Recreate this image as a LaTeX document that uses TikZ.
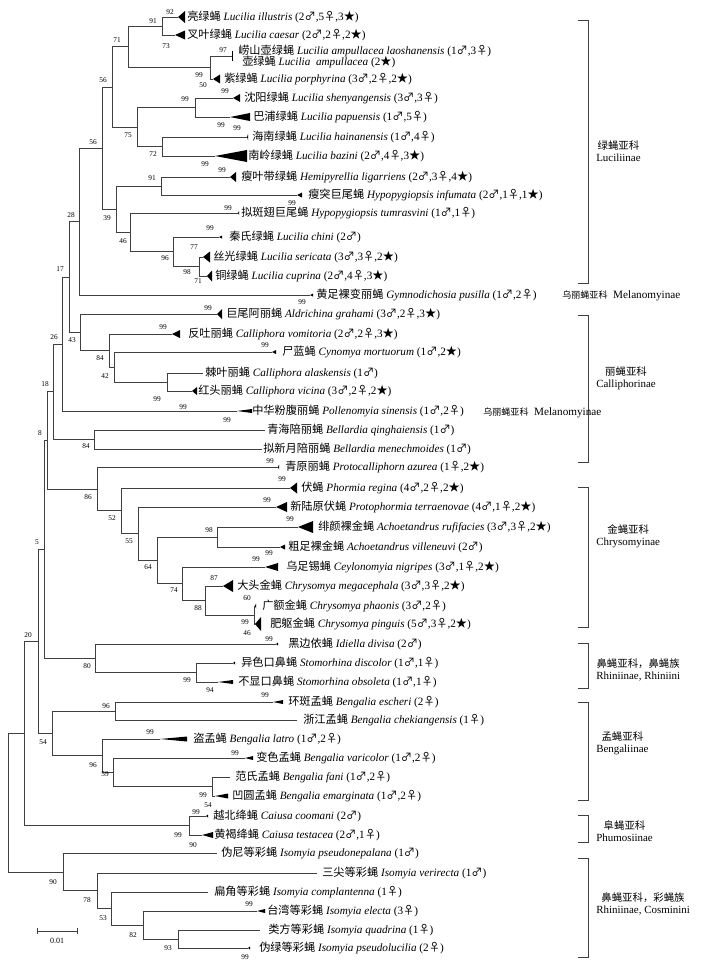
\documentclass[tikz,border=0pt]{standalone}
\usepackage{fontspec}
\setmainfont{Liberation Serif}
\newfontfamily\cjk{Noto Sans CJK SC}
\newcommand{\mal}{{\cjk ♂}}
\newcommand{\fem}{{\cjk ♀}}
\newcommand{\stx}{{\cjk ★}}
\begin{document}
\begin{tikzpicture}
[x=0.75pt,y=-0.75pt,
  branchdecorate/.style={draw=black!75,line width=0.6pt},
  elbowdecorate/.style={branchdecorate,to path={|- (\tikztotarget)}},
  leafdecorate/.style={anchor=west,inner sep=0pt,font=\fontsize{8.4}{9}\selectfont},
  bootdecorate/.style={inner sep=0pt,font=\fontsize{5.5}{6}\selectfont},
  groupdecorate/.style={anchor=west,align=center,inner sep=0pt,font=\fontsize{8.2}{9}\selectfont}]
\useasboundingbox (0,0) rectangle (700,967);
%% leaves: tip, collapsed subtree and name
\foreach \nodename/\y/\tip/\base/\h/\tx/\cn/\lat/\cnt in {
  lil/17/178/185/12/187/亮绿蝇/Lucilia illustris/{(2\mal,5\fem,3\stx)},
  lca/35/175/185/9/187/叉叶绿蝇/Lucilia caesar/{(2\mal,2\fem,2\stx)},
  lpo/79/213/220/9/224/紫绿蝇/Lucilia porphyrina/{(3\mal,2\fem,2\stx)},
  lsh/98/233/240/8/244/沈阳绿蝇/Lucilia shenyangensis/{(3\mal,3\fem)},
  lpa/117/230/250/8/253/巴浦绿蝇/Lucilia papuensis/{(1\mal,5\fem)},
  lha/137/247/248/6/252/海南绿蝇/Lucilia hainanensis/{(1\mal,4\fem)},
  lba/156/215/247/12/248/南岭绿蝇/Lucilia bazini/{(2\mal,4\fem,3\stx)},
  hli/177/230/236/10/241/瘦叶带绿蝇/Hemipyrellia ligarriens/{(2\mal,3\fem,4\stx)},
  hin/195/297/302/5/308/瘦突巨尾蝇/Hypopygiopsis infumata/{(2\mal,1\fem,1\stx)},
  htu/213/238/239/4/241/拟斑翅巨尾蝇/Hypopygiopsis tumrasvini/{(1\mal,1\fem)},
  lch/237/219/222/3/229/秦氏绿蝇/Lucilia chini/{(2\mal)},
  lse/257/203/210/11/213/丝光绿蝇/Lucilia sericata/{(3\mal,3\fem,2\stx)},
  lcu/276/207/212/11/215/铜绿蝇/Lucilia cuprina/{(2\mal,4\fem,3\stx)},
  gpu/295/310/313/3/316/黄足裸变丽蝇/Gymnodichosia pusilla/{(1\mal,2\fem)},
  agr/314/217/222/10/226/巨尾阿丽蝇/Aldrichina grahami/{(3\mal,2\fem,3\stx)},
  cvo/334/172/180/8/188/反吐丽蝇/Calliphora vomitoria/{(2\mal,2\fem,3\stx)},
  cmo/352/272/276/4/282/尸蓝蝇/Cynomya mortuorum/{(1\mal,2\stx)},
  cal/373/203/203/0/205/棘叶丽蝇/Calliphora alaskensis/{(1\mal)},
  cvi/391/192/197/8/198/红头丽蝇/Calliphora vicina/{(3\mal,2\fem,2\stx)},
  psi/411/237/252/4/252/中华粉腹丽蝇/Pollenomyia sinensis/{(1\mal,2\fem)},
  bqi/430/265/265/0/267/青海陪丽蝇/Bellardia qinghaiensis/{(1\mal)},
  bme/449/262/262/0/263/拟新月陪丽蝇/Bellardia menechmoides/{(1\mal)},
  paz/467/278/279/5/285/青原丽蝇/Protocalliphorn azurea/{(1\fem,2\stx)},
  pre/488/290/297/11/301/伏蝇/Phormia regina/{(4\mal,2\fem,2\stx)},
  pte/507/276/287/10/290/新陆原伏蝇/Protophormia terraenovae/{(4\mal,1\fem,2\stx)},
  aru/527/298/313/12/318/绯颜裸金蝇/Achoetandrus rufifacies/{(3\mal,3\fem,2\stx)},
  avi/547/280/285/5/288/粗足裸金蝇/Achoetandrus villeneuvi/{(2\mal)},
  cni/567/265/278/8/286/乌足锡蝇/Ceylonomyia nigripes/{(3\mal,1\fem,2\stx)},
  cme/586/223/233/12/237/大头金蝇/Chrysomya megacephala/{(3\mal,3\fem,2\stx)},
  cph/606/255/256/5/262/广额金蝇/Chrysomya phaonis/{(3\mal,2\fem)},
  cpi/624/255/261/14/270/肥躯金蝇/Chrysomya pinguis/{(5\mal,3\fem,2\stx)},
  idi/644/276/278/3/288/黑边依蝇/Idiella divisa/{(2\mal)},
  sdi/663/233/235/3/241/异色口鼻蝇/Stomorhina discolor/{(1\mal,1\fem)},
  sob/682/218/233/4/238/不显口鼻蝇/Stomorhina obsoleta/{(1\mal,1\fem)},
  bes/702/273/283/4/288/环斑孟蝇/Bengalia escheri/{(2\fem)},
  bch/720/297/297/0/303/浙江孟蝇/Bengalia chekiangensis/{(1\fem)},
  bla/739/160/187/5/193/盗孟蝇/Bengalia latro/{(1\mal,2\fem)},
  bva/758/245/253/4/256/变色孟蝇/Bengalia varicolor/{(1\mal,2\fem)},
  bfa/777/230/230/0/235/范氏孟蝇/Bengalia fani/{(1\mal,2\fem)},
  bem/796/215/228/5/232/凹圆孟蝇/Bengalia emarginata/{(1\mal,2\fem)},
  cco/816/206/208/3/213/越北绛蝇/Caiusa coomani/{(2\mal)},
  cte/835/202/213/6/214/黄褐绛蝇/Caiusa testacea/{(2\mal,1\fem)},
  ipn/853/217/217/0/221/伪尼等彩蝇/Isomyia pseudonepalana/{(1\mal)},
  ive/873/317/317/0/322/三尖等彩蝇/Isomyia verirecta/{(1\mal)},
  ico/892/208/208/0/214/扁角等彩蝇/Isomyia complantenna/{(1\fem)},
  iel/911/257/265/4/267/台湾等彩蝇/Isomyia electa/{(3\fem)},
  iqu/930/260/260/0/268/类方等彩蝇/Isomyia quadrina/{(1\fem)},
  ips/948/248/250/3/259/伪绿等彩蝇/Isomyia pseudolucilia/{(2\fem)}}
{
  \coordinate (\nodename) at (\tip,\y);
  \fill[black] (\tip,\y) -- (\base,{\y-\h/2}) -- (\base,{\y+\h/2}) -- cycle;
  \node (\nodename-t) at (\tx,\y) [leafdecorate] {{\cjk \cn} \textit{\lat} \cnt};
}
%% the one leaf with two names
\coordinate (lal) at (232,56);
\fill[black] (232,51) rectangle (233,61);
\node (lal-t) at (238,51) [leafdecorate] {{\cjk 崂山壶绿蝇} \textit{Lucilia ampullacea laoshanensis} (1\mal,3\fem)};
\node (lal-u) at (242,62) [leafdecorate] {{\cjk 壶绿蝇} \textit{Lucilia\ \ ampullacea} (2\stx)};
%% inner nodes
\foreach \nodename/\x/\y in {n91a/162/26, n97/210/67.5, n71/128/46.75,
  n99c/195/107.5, n72/162/146.5, n75/137/127, n56a/112/86.9,
  n91b/161/186, n77/199/266.5, n96/173/251.75, n46/130/232.4,
  n39/116/209.2, n56b/102/148, n28/79/221.5,
  n99d/167/382, n42/114/367, n84a/109/350.5, n43/80/332.25,
  n17/69/276.9, n26/62/344, n84b/94/439.5, n18/53/391.7,
  n98/217/537, n60/254/615, n88/205/600.5, n74/182/583.75,
  n64/157/560.4, n55/138/533.7, n52/121/510.8, n86/97/488.9,
  n8/47/440.3, n99e/196/672.5, n80/95/658.25, n5/44/549.3,
  n96a/115/711, n99f/212/786.5, n59/113/772.25, n96b/102/755.6,
  n54/52/733.3, n20/38/641.3, n99g/189/825.5, nA/24/733.4,
  n93/178/939, n82/143/925, n53/111/908.5, n78/97/890.75,
  n90/63/871.9, root/8/802.6}
{
  \coordinate (\nodename) at (\x,\y);
}
%% branches
\path
\foreach \startnode/\endnode in {root/nA, root/n90, nA/n20, nA/n99g,
  n20/n5, n20/n54, n5/n8, n5/n80, n8/n18, n8/n86, n18/n26, n18/n84b,
  n26/n17, n26/psi, n17/n28, n17/n43, n28/n56b, n28/gpu,
  n56b/n56a, n56b/n39, n56a/n71, n56a/n75, n71/n91a, n71/n97,
  n91a/lil, n91a/lca, n97/lal, n97/lpo, n75/n99c, n75/n72,
  n99c/lsh, n99c/lpa, n72/lha, n72/lba, n39/n91b, n39/n46,
  n91b/hli, n91b/hin, n46/htu, n46/n96, n96/lch, n96/n77,
  n77/lse, n77/lcu, n43/agr, n43/n84a, n84a/cvo, n84a/n42,
  n42/cmo, n42/n99d, n99d/cal, n99d/cvi, n84b/bqi, n84b/bme,
  n86/paz, n86/n52, n52/pre, n52/n55, n55/pte, n55/n64,
  n64/n98, n64/n74, n98/aru, n98/avi, n74/cni, n74/n88,
  n88/cme, n88/n60, n60/cph, n60/cpi, n80/idi, n80/n99e,
  n99e/sdi, n99e/sob, n54/n96a, n54/n96b, n96a/bes, n96a/bch,
  n96b/bla, n96b/n59, n59/bva, n59/n99f, n99f/bfa, n99f/bem,
  n99g/cco, n99g/cte, n90/ipn, n90/n78, n78/ive, n78/n53,
  n53/ico, n53/n82, n82/iel, n82/n93, n93/iqu, n93/ips} {
  (\startnode) edge[elbowdecorate] (\endnode)
};
%% bootstrap values
\foreach \val/\x/\y [count=\i] in {91/153/21, 92/170/12, 73/166/46, 71/117/40,
  97/223/50, 99/199/75, 50/203/85, 56/103/80, 99/185/99, 99/225/91,
  99/221/125, 99/237/128, 75/128/135, 72/153/154, 99/205/164, 56/93/142,
  91/152/178, 99/222/170, 99/292/203, 99/228/208, 39/107/218, 46/123/241,
  99/210/228, 77/194/247, 96/165/258, 98/187/272, 71/198/281, 28/71/215,
  99/302/302, 17/60/269, 99/208/308, 99/163/327, 43/72/340, 99/265/345,
  84/100/358, 42/105/376, 99/157/399, 99/183/407, 26/54/337, 99/227/420,
  18/45/384, 84/86/446, 8/40/433, 99/270/461, 99/282/479, 86/88/497,
  99/267/500, 52/112/518, 99/290/519, 98/209/530, 55/129/541, 99/256/559,
  99/269/553, 64/148/567, 87/214/578, 74/174/590, 60/247/598, 88/198/608,
  99/245/622, 46/247/633, 5/37/542, 99/269/639, 80/87/666, 99/187/680,
  94/210/690, 20/28/635, 99/265/695, 96/106/706, 99/150/732, 96/93/765,
  59/105/774, 54/43/742, 99/235/753, 99/203/795, 54/208/805, 99/196/812,
  99/178/835, 90/193/845, 90/53/882, 78/87/900, 53/103/918, 82/133/935,
  99/249/904, 93/168/948, 99/245/957}
{
  \node (b\i) at (\x,\y) [bootdecorate] {\val};
}
%% subfamily brackets
\foreach \top/\bot/\ty/\cn/\en in {20/283/151/绿蝇亚科/Luciliinae,
  315/462/378/丽蝇亚科/Calliphorinae, 487/627/536/金蝇亚科/Chrysomyinae,
  643/688/670/鼻蝇亚科，鼻蝇族/{Rhiniinae, Rhiniini},
  702/800/743/孟蝇亚科/Bengaliinae, 815/842/831/阜蝇亚科/Phumosiinae,
  858/957/904/鼻蝇亚科，彩蝇族/{Rhiniinae, Cosminini}}
{
  \draw[branchdecorate] (578,\top) -- (588,\top) -- (588,\bot) -- (578,\bot);
  \node (g\top) at (596,\ty) [groupdecorate] {{\cjk\fontsize{7.8}{9}\selectfont \cn}\\\en};
}
\node (mel1) at (562,296) [leafdecorate] {{\cjk\fontsize{6.8}{8}\selectfont 乌丽蝇亚科}\enspace Melanomyinae};
\node (mel2) at (483,413) [leafdecorate] {{\cjk\fontsize{6.8}{8}\selectfont 乌丽蝇亚科}\enspace Melanomyinae};
%% scale bar
\coordinate (sb1) at (37,931);
\coordinate (sb2) at (77,931);
\draw[branchdecorate] (sb1) -- (sb2) ([yshift=2pt]sb1) -- ([yshift=-2pt]sb1)
  ([yshift=2pt]sb2) -- ([yshift=-2pt]sb2);
\node (sbl) at (57,941) [bootdecorate,font=\fontsize{6}{7}\selectfont] {0.01};
\end{tikzpicture}
\end{document}
